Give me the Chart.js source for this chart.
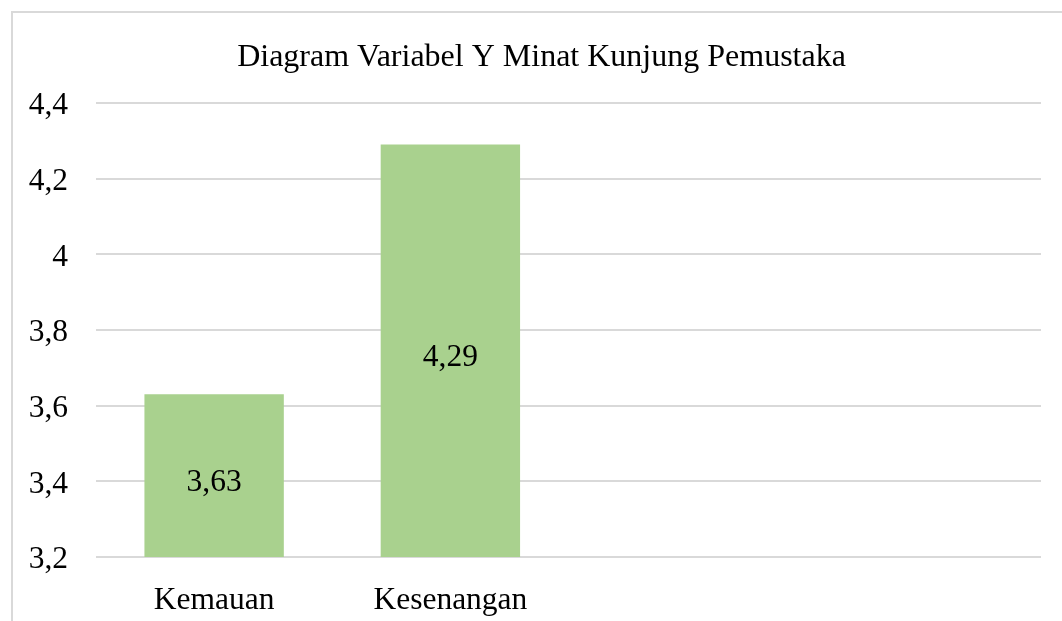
<!DOCTYPE html>
<html>
<head>
<meta charset="utf-8">
<script src="https://cdn.jsdelivr.net/npm/chart.js@4"></script>
<style>
  html, body { margin: 0; padding: 0; background: #fff; overflow: hidden; }
  #frame {
    position: absolute; left: 11px; top: 11px;
    width: 1061px; height: 630px;
    border: 2px solid #d9d9d9; box-sizing: border-box;
  }
  #wrap { position: absolute; left: 11px; top: 11px; width: 1061px; height: 630px; }
</style>
</head>
<body>
<div id="frame"></div>
<div id="wrap"><canvas id="chart"></canvas></div>
<script>
// chart data
const categories = ['Kemauan', 'Kesenangan', '', ''];
const values = [3.63, 4.29, null, null];
const yTicks = [3.2, 3.4, 3.6, 3.8, 4, 4.2, 4.4];
const title = 'Diagram Variabel Y Minat Kunjung Pemustaka';

const fmt = v => String(Math.round(v * 100) / 100).replace('.', ',');
const family = '"Liberation Serif", "Times New Roman", serif';
const font = { family: family, size: 31.5 };

// title centred on the whole chart frame, value labels in the middle of each bar
const extraText = {
  id: 'extraText',
  afterDraw(chart) {
    const c = chart.ctx;
    const meta = chart.getDatasetMeta(0);
    const yScale = chart.scales.y;
    c.save();
    c.fillStyle = '#000';
    c.textAlign = 'center';
    c.textBaseline = 'middle';
    c.font = '32px ' + family;
    c.fillText(title, chart.width / 2, 47);
    c.font = '31.5px ' + family;
    meta.data.forEach((bar, i) => {
      if (values[i] == null) return;
      const mid = yScale.getPixelForValue((values[i] + yScale.min) / 2);
      c.fillText(fmt(values[i]), bar.x, mid + 7);
    });
    c.restore();
  }
};

new Chart(document.getElementById('chart'), {
  type: 'bar',
  data: {
    labels: categories,
    datasets: [{
      data: values,
      backgroundColor: '#a9d18e',
      barPercentage: 0.59,
      categoryPercentage: 1
    }]
  },
  options: {
    responsive: true,
    maintainAspectRatio: false,
    animation: false,
    layout: { padding: { left: 17, right: 31, top: 92, bottom: 0 } },
    plugins: {
      legend: { display: false },
      tooltip: { enabled: false },
      title: { display: false }
    },
    scales: {
      x: {
        grid: { display: false },
        border: { display: false },
        ticks: { color: '#000', font: font, padding: 17, maxRotation: 0 },
        afterFit(scale) { scale.height = 84; }
      },
      y: {
        min: yTicks[0],
        max: yTicks[yTicks.length - 1],
        afterBuildTicks(scale) { scale.ticks = yTicks.map(v => ({ value: v })); },
        grid: { color: '#d9d9d9', lineWidth: 2, drawTicks: false },
        border: { display: false },
        ticks: { color: '#000', font: font, padding: 28, labelOffset: 3, callback: v => fmt(v) },
        afterFit(scale) { scale.width = 68; }
      }
    }
  },
  plugins: [extraText]
});
</script>
</body>
</html>
